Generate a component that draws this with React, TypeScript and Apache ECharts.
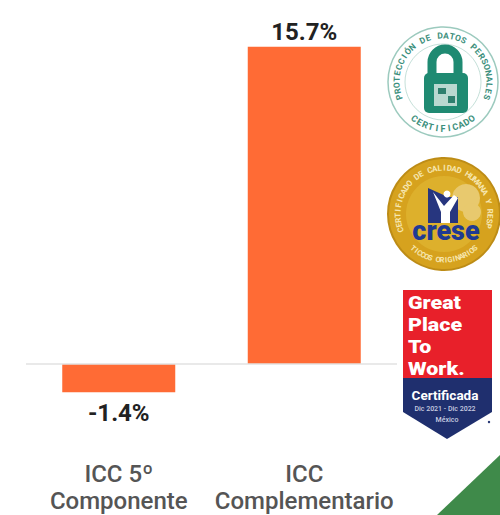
import React, { useEffect, useRef } from "react";
import * as echarts from "echarts";

const categories = ["ICC 5º\nComponente", "ICC\nComplementario"];
const values = [-1.4, 15.7];
const yMin = -3;
const yMax = 17;

const FONT = "Roboto";
const ORANGE = "#ff6b35";

function arcText(str: string, cx: number, cy: number, r: number, spanDeg: number, startDeg: number, bottom: boolean, color: string, size: number, weight = 700) {
  const out: any[] = [];
  const n = str.length;
  for (let i = 0; i < n; i++) {
    const d = n > 1 ? i / (n - 1) : 0.5;
    const deg = startDeg + d * spanDeg;
    const t = (deg * Math.PI) / 180;
    out.push({
      type: "text",
      x: cx + r * Math.sin(t),
      y: bottom ? cy + r * Math.cos(t) : cy - r * Math.cos(t),
      rotation: bottom ? t : -t,
      style: { text: str[i], fill: color, font: `${weight} ${size}px ${FONT}`, align: "center", verticalAlign: "middle" },
    });
  }
  return out;
}

function padlockBadge(): any[] {
  const cx = 443, cy = 82, g = "#1f8a72";
  return [
    { type: "circle", shape: { cx, cy, r: 55 }, style: { fill: "#fff", stroke: "#9ccabe", lineWidth: 1.5 } },
    { type: "circle", shape: { cx, cy, r: 38 }, style: { fill: "#fff", stroke: "#c5e0d9", lineWidth: 1 } },
    ...arcText("PROTECCIÓN DE DATOS PERSONALES", cx, cy, 46.5, 218, -109, false, "#3c8f7c", 8.5),
    ...arcText("CERTIFICADO", cx, cy, 46.5, 76, -38, true, "#3c8f7c", 9),
    { type: "arc", shape: { cx: 445, cy: 62, r: 13, startAngle: Math.PI, endAngle: 0, clockwise: true }, style: { fill: "none", stroke: g, lineWidth: 9 } },
    { type: "rect", shape: { x: 432, y: 62, width: 0, height: 12 }, style: { stroke: g, lineWidth: 9 } },
    { type: "rect", shape: { x: 458, y: 62, width: 0, height: 12 }, style: { stroke: g, lineWidth: 9 } },
    { type: "rect", shape: { x: 424, y: 73, width: 44, height: 40, r: 5 }, style: { fill: g } },
    { type: "rect", shape: { x: 434, y: 84, width: 23, height: 22 }, style: { fill: "#b9d8d0" } },
    { type: "rect", shape: { x: 438, y: 88, width: 8, height: 6 }, style: { fill: "#2f7f6e" } },
    { type: "rect", shape: { x: 448, y: 96, width: 7, height: 7 }, style: { fill: "#2f7f6e" } },
  ];
}

function creseBadge(): any[] {
  const cx = 444, cy = 214;
  return [
    { type: "circle", shape: { cx, cy, r: 56 }, style: { fill: "#d6a21e", stroke: "#bd8c16", lineWidth: 2 } },
    { type: "circle", shape: { cx, cy, r: 38 }, style: { fill: "#ddb02c" } },
    { type: "circle", shape: { cx: 466, cy: 198, r: 14 }, style: { fill: "#e8c96e" } },
    { type: "circle", shape: { cx: 472, cy: 212, r: 9 }, style: { fill: "#e8c96e" } },
    { type: "polygon", shape: { points: [[428, 188], [448, 197], [458, 197], [458, 223], [428, 223]] }, style: { fill: "#27367f" } },
    { type: "polygon", shape: { points: [[433, 192], [444, 206], [454, 195], [458, 198], [450, 212], [450, 223], [441, 223], [441, 212]] }, style: { fill: "#fff" } },
    { type: "circle", shape: { cx: 447, cy: 194, r: 3.5 }, style: { fill: "#fff" } },
    { type: "text", x: 446, y: 231, style: { text: "crese", fill: "#1f3a93", font: `900 27px ${FONT}`, align: "center", verticalAlign: "middle" } },
    ...arcText("CERTIFICADO DE CALIDAD HUMANA Y RESP", cx, cy, 46, 215, -110, false, "#f7e7b0", 8),
    ...arcText("TICCOS ORIGINARIOS", cx, cy, 46, 84, -42, true, "#f7e7b0", 7.5),
  ];
}

function gptwBadge(): any[] {
  const lines = ["Great", "Place", "To", "Work."];
  return [
    { type: "rect", shape: { x: 403, y: 290, width: 89, height: 88 }, style: { fill: "#e8202a" } },
    { type: "polygon", shape: { points: [[403, 378], [492, 378], [492, 412], [447, 439], [403, 412]] }, style: { fill: "#1f2f6e" } },
    ...lines.map((text, i) => ({
      type: "text", x: 408, y: 303 + i * 22, scaleX: 1.16,
      style: { text, fill: "#fff", font: `900 18.5px ${FONT}`, align: "left", verticalAlign: "middle" },
    })),
    { type: "text", x: 445, y: 395, style: { text: "Certificada", fill: "#fff", font: `700 13.5px ${FONT}`, align: "center", verticalAlign: "middle" } },
    { type: "text", x: 445, y: 409, style: { text: "Dic 2021 - Dic 2022", fill: "#c8cde0", font: `500 7px ${FONT}`, align: "center", verticalAlign: "middle" } },
    { type: "text", x: 447, y: 420, style: { text: "México", fill: "#c8cde0", font: `500 7px ${FONT}`, align: "center", verticalAlign: "middle" } },
    { type: "circle", shape: { cx: 489, cy: 422, r: 1.2 }, style: { fill: "#1f2f6e" } },
  ];
}

export default function App() {
  const ref = useRef<HTMLDivElement>(null);
  useEffect(() => {
    const chart = echarts.init(ref.current!, undefined, { renderer: "svg" });
    chart.setOption({
      animation: false,
      backgroundColor: "#ffffff",
      grid: { left: 26, right: 103, top: 20.6, height: 404, containLabel: false },
      xAxis: {
        type: "category",
        data: categories,
        axisLine: { show: false, onZero: false },
        axisTick: { show: false },
        axisLabel: {
          margin: 36,
          interval: 0,
          color: "#555555",
          fontFamily: FONT,
          fontWeight: 500,
          fontSize: 24,
          lineHeight: 27,
          align: "center",
        },
      },
      yAxis: { type: "value", min: yMin, max: yMax, show: false, splitLine: { show: false } },
      series: [
        {
          type: "bar",
          barWidth: 113,
          itemStyle: { color: ORANGE },
          data: values.map((v) => ({
            value: v,
            label: { position: v < 0 ? "bottom" : "top", distance: v < 0 ? 9 : 3 },
          })),
          label: {
            show: true,
            formatter: (p: any) => `${p.value}%`,
            color: "#222222",
            fontFamily: FONT,
            fontWeight: 700,
            fontSize: 24,
          },
          markLine: {
            silent: true,
            symbol: "none",
            label: { show: false },
            lineStyle: { color: "#e2e2e2", width: 1.5, type: "solid" },
            data: [{ yAxis: 0 }],
          },
        },
      ],
      graphic: [
        { type: "polygon", z: 10, shape: { points: [[437, 515], [500, 455], [500, 515]] }, style: { fill: "#3f8a4a" } },
        { type: "group", z: 10, children: padlockBadge() },
        { type: "group", z: 10, children: creseBadge() },
        { type: "group", z: 10, children: gptwBadge() },
      ],
    });
    return () => chart.dispose();
  }, []);
  return <div ref={ref} style={{ position: "absolute", left: 0, top: 0, width: 500, height: 515 }} />;
}
